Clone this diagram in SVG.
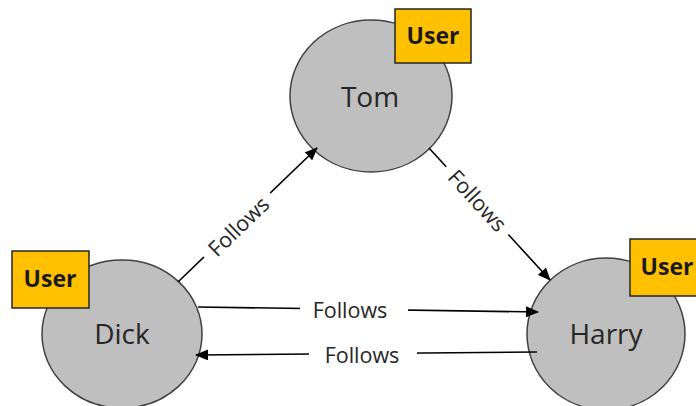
<svg xmlns="http://www.w3.org/2000/svg" width="696" height="406" viewBox="0 0 696 406">
<style>
.node{fill:#BFBFBF;stroke:#404040;stroke-width:1.5}
.name{font-family:"Open Sans","Noto Sans",sans-serif;font-size:28px;fill:#262626;text-anchor:middle;dominant-baseline:central}
.tag{fill:#FFC000;stroke:#262626;stroke-width:1.5}
.tagt{font-family:"Open Sans","Noto Sans",sans-serif;font-size:23px;font-weight:bold;fill:#1a1a1a;text-anchor:middle;dominant-baseline:central}
.edge{stroke:#000;stroke-width:1.6;fill:none;marker-end:url(#ah)}
.lbl{font-family:"Open Sans","Noto Sans",sans-serif;font-size:21.5px;fill:#262626;text-anchor:middle;dominant-baseline:central}
.bg{fill:#fff}
</style>
<defs>
<marker id="ah" viewBox="0 0 13 11" refX="12" refY="5.5" markerWidth="13" markerHeight="11" markerUnits="userSpaceOnUse" orient="auto">
<path d="M0,0 L13,5.5 L0,11 z" fill="#000"/>
</marker>
</defs>
<rect width="696" height="406" fill="#fff"/>
<g id="tom">
<ellipse class="node" cx="371" cy="96" rx="81" ry="76"/>
<text class="name" x="370" y="96">Tom</text>
<rect class="tag" x="395" y="9" width="76" height="54"/>
<text class="tagt" x="433" y="35">User</text>
</g>
<g id="dick">
<ellipse class="node" cx="122" cy="334" rx="80" ry="74"/>
<text class="name" x="122" y="333">Dick</text>
<rect class="tag" x="12" y="251" width="77" height="57"/>
<text class="tagt" x="50" y="278">User</text>
</g>
<g id="harry">
<ellipse class="node" cx="606" cy="334" rx="79" ry="76"/>
<text class="name" x="606" y="333">Harry</text>
<rect class="tag" x="630" y="239" width="76" height="57"/>
<text class="tagt" x="667" y="266">User</text>
</g>
<g id="connectors">
<g id="e-dick-tom">
<path class="edge" d="M178,282 L317,148"/>
<rect class="bg" x="-46" y="-13" width="92" height="26" transform="translate(238,226) rotate(-44)"/>
<text class="lbl" transform="translate(238,226) rotate(-44)">Follows</text>
</g>
<g id="e-tom-harry">
<path class="edge" d="M429,148 L550,280"/>
<rect class="bg" x="-46" y="-13" width="92" height="26" transform="translate(478,200) rotate(47.5)"/>
<text class="lbl" transform="translate(478,200) rotate(47.5)">Follows</text>
</g>
<g id="e-dick-harry">
<path class="edge" d="M198,307 L538,312"/>
<rect class="bg" x="300" y="296" width="108" height="26"/>
<text class="lbl" x="350" y="309">Follows</text>
</g>
<g id="e-harry-dick">
<path class="edge" d="M537,352 L196,355"/>
<rect class="bg" x="309" y="340" width="108" height="26"/>
<text class="lbl" x="362" y="354">Follows</text>
</g>
</g>
</svg>
